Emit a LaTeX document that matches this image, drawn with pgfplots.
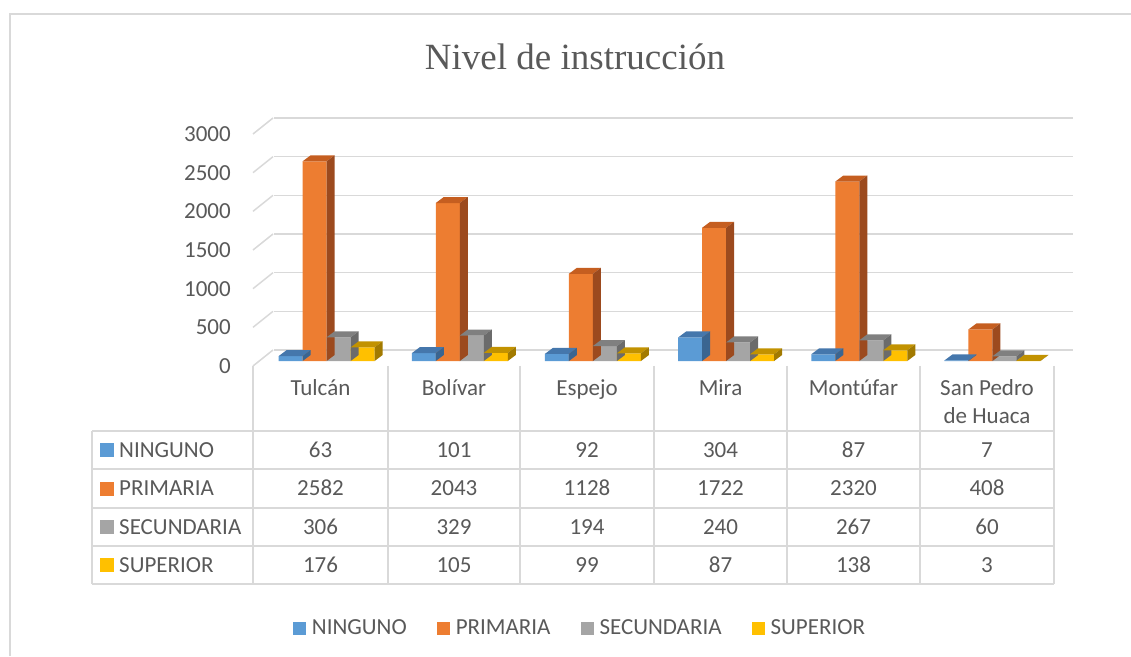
\documentclass[border=0pt]{standalone}
\usepackage{pgfplots}
\pgfplotsset{compat=1.18}
\usepackage{pgfplotstable}
\usepackage{fontspec}
\setmainfont{Carlito}
\newfontfamily\titlefont{Liberation Serif}

\definecolor{txt}{HTML}{595959}
\definecolor{gridc}{HTML}{D9D9D9}
\definecolor{cA}{HTML}{5B9BD5}\definecolor{cAt}{HTML}{4577AC}\definecolor{cAs}{HTML}{3A6591}
\definecolor{cB}{HTML}{ED7D31}\definecolor{cBt}{HTML}{C55E20}\definecolor{cBs}{HTML}{9C4A1E}
\definecolor{cC}{HTML}{A5A5A5}\definecolor{cCt}{HTML}{808080}\definecolor{cCs}{HTML}{6B6B6B}
\definecolor{cD}{HTML}{FFC000}\definecolor{cDt}{HTML}{C29200}\definecolor{cDs}{HTML}{A27A00}

\newcommand\ff{\fontsize{23}{27}\selectfont}

% 3D top and side faces of a bar, drawn at the top centre of its front face
\newcommand\defbarmark[3]{%
  \pgfdeclareplotmark{#1}{%
    \pgfmathsetmacro\bh{\barval/3000*232}%
    \pgfmathsetmacro\bb{6-\bh}%
    \pgfsetfillcolor{#2}%
    \pgfpathmoveto{\pgfpoint{-12pt}{0pt}}%
    \pgfpathlineto{\pgfpoint{12pt}{0pt}}%
    \pgfpathlineto{\pgfpoint{20pt}{6pt}}%
    \pgfpathlineto{\pgfpoint{-4pt}{6pt}}%
    \pgfpathclose
    \pgfusepath{fill}%
    \pgfsetfillcolor{#3}%
    \pgfpathmoveto{\pgfpoint{12pt}{0pt}}%
    \pgfpathlineto{\pgfpoint{20pt}{6pt}}%
    \pgfpathlineto{\pgfpoint{20pt}{\bb pt}}%
    \pgfpathlineto{\pgfpoint{12pt}{-\bh pt}}%
    \pgfpathclose
    \pgfusepath{fill}%
  }}
\defbarmark{barA}{cAt}{cAs}
\defbarmark{barB}{cBt}{cBs}
\defbarmark{barC}{cCt}{cCs}
\defbarmark{barD}{cDt}{cDs}

\pgfdeclareplotmark{slantline}{%
  \pgfsetlinewidth{1.5pt}%
  \pgfsetstrokecolor{gridc}%
  \pgfpathmoveto{\pgfpoint{-7pt}{-5pt}}%
  \pgfpathlineto{\pgfpoint{13pt}{11pt}}%
  \pgfusepath{stroke}}

\pgfplotstableread{
idx ninguno primaria secundaria superior
0 63 2582 306 176
1 101 2043 329 105
2 92 1128 194 99
3 304 1722 240 87
4 87 2320 267 138
5 7 408 60 3
}\datatable

\begin{document}
\begin{tikzpicture}
\begin{scope}[x=1pt,y=1pt]
\useasboundingbox (0,0) rectangle (1131,656);
\draw[gridc, line width=1.5pt] (10,0) -- (10,642) -- (1131,642);
\node[anchor=base, text=txt, font=\titlefont\fontsize{37}{44}\selectfont] at (575,586) {Nivel de instrucción};
\end{scope}

\begin{axis}[
  at={(260pt,295pt)}, anchor=south west,
  scale only axis, width=799pt, height=232pt,
  xmin=-0.5, xmax=5.5, ymin=0, ymax=3000,
  clip=false,
  axis line style={draw=none},
  xtick=\empty,
  ytick={0,500,1000,1500,2000,2500,3000},
  yticklabels={0,500,1000,1500,2000,2500,3000},
  major tick length=0pt,
  yticklabel style={anchor=east, inner sep=0pt, xshift=-29pt, yshift=-5pt, font=\ff, text=txt},
  ymajorgrids,
  major grid style={draw=gridc, line width=1.5pt, xshift=14pt, yshift=11pt},
  legend image code/.code={\fill[#1] (0pt,-6.5pt) rectangle (13pt,6.5pt);},
  legend style={draw=none, fill=none, at={(0.4005,-1.151)}, anchor=center,
    legend columns=-1, font=\ff, text=txt,
    /tikz/every odd column/.append style={column sep=4pt},
    /tikz/every even column/.append style={column sep=28pt}},
]
\addplot[only marks, mark=slantline, forget plot] coordinates {(-0.5,0) (-0.5,500) (-0.5,1000) (-0.5,1500) (-0.5,2000) (-0.5,2500) (-0.5,3000)};
\addplot[ybar, bar width=24pt, bar shift=0pt, fill=cA, draw=none, mark=barA, visualization depends on={rawy \as \barval}]
  table[x expr=\thisrow{idx}-0.2703, y=ninguno] {\datatable};
\addlegendentry{NINGUNO}
\addplot[ybar, bar width=24pt, bar shift=0pt, fill=cB, draw=none, mark=barB, visualization depends on={rawy \as \barval}]
  table[x expr=\thisrow{idx}-0.0901, y=primaria] {\datatable};
\addlegendentry{PRIMARIA}
\addplot[ybar, bar width=24pt, bar shift=0pt, fill=cC, draw=none, mark=barC, visualization depends on={rawy \as \barval}]
  table[x expr=\thisrow{idx}+0.0901, y=secundaria] {\datatable};
\addlegendentry{SECUNDARIA}
\addplot[ybar, bar width=24pt, bar shift=0pt, fill=cD, draw=none, mark=barD, visualization depends on={rawy \as \barval}]
  table[x expr=\thisrow{idx}+0.2703, y=superior] {\datatable};
\addlegendentry{SUPERIOR}
\end{axis}

\begin{scope}[x=1pt,y=1pt]
\begin{scope}[gridc, line width=1.5pt]
  \foreach \y in {225,187,148,110,72} \draw (92,\y) -- (1054,\y);
  \draw (92,225) -- (92,72);
  \foreach \x in {253,388,520,654,787,920,1054} \draw (\x,290) -- (\x,72);
\end{scope}
\begin{scope}[text=txt, font=\ff]
  \foreach \x/\n in {320.5/Tulcán,454/Bolívar,587/Espejo,720.5/Mira,853.5/Montúfar,987/San Pedro}
    \node[anchor=base] at (\x,260) {\n};
  \node[anchor=base] at (987,233) {de Huaca};
  \fill[cA] (100,199) rectangle ++(14,14);
  \fill[cB] (100,160.5) rectangle ++(14,14);
  \fill[cC] (100,122) rectangle ++(14,14);
  \fill[cD] (100,84) rectangle ++(14,14);
  \node[anchor=base west, inner sep=0pt] at (119,199) {NINGUNO};
  \node[anchor=base west, inner sep=0pt] at (119,160.5) {PRIMARIA};
  \node[anchor=base west, inner sep=0pt] at (119,122) {SECUNDARIA};
  \node[anchor=base west, inner sep=0pt] at (119,84) {SUPERIOR};
  \foreach \x/\a/\b/\c/\d in {320.5/63/2582/306/176, 454/101/2043/329/105, 587/92/1128/194/99, 720.5/304/1722/240/87, 853.5/87/2320/267/138, 987/7/408/60/3}{
    \node[anchor=base] at (\x,199) {\a};
    \node[anchor=base] at (\x,160.5) {\b};
    \node[anchor=base] at (\x,122) {\c};
    \node[anchor=base] at (\x,84) {\d};
  }
\end{scope}
\end{scope}
\end{tikzpicture}
\end{document}
